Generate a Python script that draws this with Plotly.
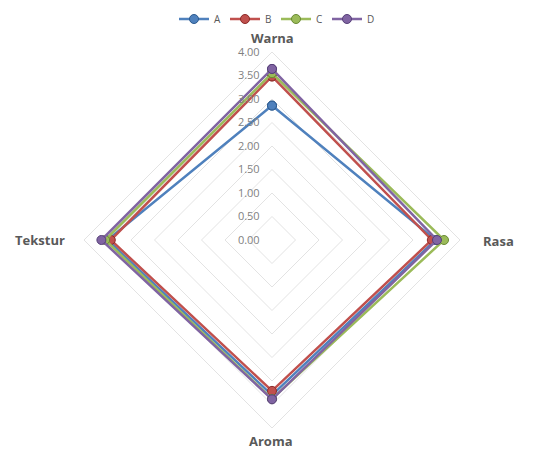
import plotly.graph_objects as go

categories = ["Warna", "Rasa", "Aroma", "Tekstur"]
series_names = ["A", "B", "C", "D"]
values_A = [2.86, 3.48, 3.30, 3.50]
values_B = [3.48, 3.40, 3.21, 3.43]
values_C = [3.55, 3.66, 3.38, 3.55]
values_D = [3.64, 3.51, 3.39, 3.63]
radial_ticks = [0, 0.5, 1.0, 1.5, 2.0, 2.5, 3.0, 3.5, 4.0]

colors = ["#4F81BD", "#C0504D", "#9BBB59", "#8064A2"]
edge = ["#2c5a8f", "#8c2a28", "#6a8a34", "#563f78"]
all_vals = [values_A, values_B, values_C, values_D]

W, H = 552, 450
cx, cy, R = 272, 240, 188

fig = go.Figure()
for name, vals, c, e in zip(series_names, all_vals, colors, edge):
    fig.add_trace(go.Scatterpolar(
        r=vals + vals[:1],
        theta=categories + categories[:1],
        mode="lines+markers",
        name=name,
        line=dict(color=c, width=2.5),
        marker=dict(size=9, color=c, line=dict(color=e, width=1)),
    ))

# category labels placed around the chart
label_pos = {"Warna": (272, 38), "Rasa": (498, 241), "Aroma": (271, 441), "Tekstur": (40, 240)}
annotations = []
for cat in categories:
    px, py = label_pos[cat]
    annotations.append(dict(
        text="<b>" + cat + "</b>", x=px / W, y=1 - py / H, xref="paper", yref="paper",
        xanchor="center", yanchor="middle", showarrow=False,
        font=dict(family="Open Sans", size=13, color="#595959"),
    ))

fig.update_layout(
    width=W, height=H,
    paper_bgcolor="white",
    margin=dict(l=0, r=0, t=0, b=0),
    showlegend=True,
    legend=dict(orientation="h", x=0.5, xanchor="center", y=0.99, yanchor="top",
                font=dict(family="Open Sans", size=10, color="#595959"),
                entrywidth=6, entrywidthmode="pixels", tracegroupgap=0),
    annotations=annotations,
    polar=dict(
        domain=dict(x=[(cx - R) / W, (cx + R) / W], y=[(H - cy - R) / H, (H - cy + R) / H]),
        bgcolor="white",
        gridshape="linear",
        angularaxis=dict(
            direction="clockwise", rotation=90,
            showgrid=False, showticklabels=False,
            linecolor="#e3e3e3", linewidth=1,
            ticks="",
        ),
        radialaxis=dict(
            range=[0, 4], tickvals=radial_ticks, tickformat=".2f",
            angle=90, tickangle=90, side="counterclockwise",
            showline=False, ticks="outside", ticklen=8, tickcolor="rgba(0,0,0,0)",
            gridcolor="#e3e3e3", gridwidth=1,
            tickfont=dict(family="Open Sans", size=11, color="#7f7f7f"),
        ),
    ),
)

fig.write_html("out.html", config={"displayModeBar": False},
               post_script="document.body.style.margin='0';")
